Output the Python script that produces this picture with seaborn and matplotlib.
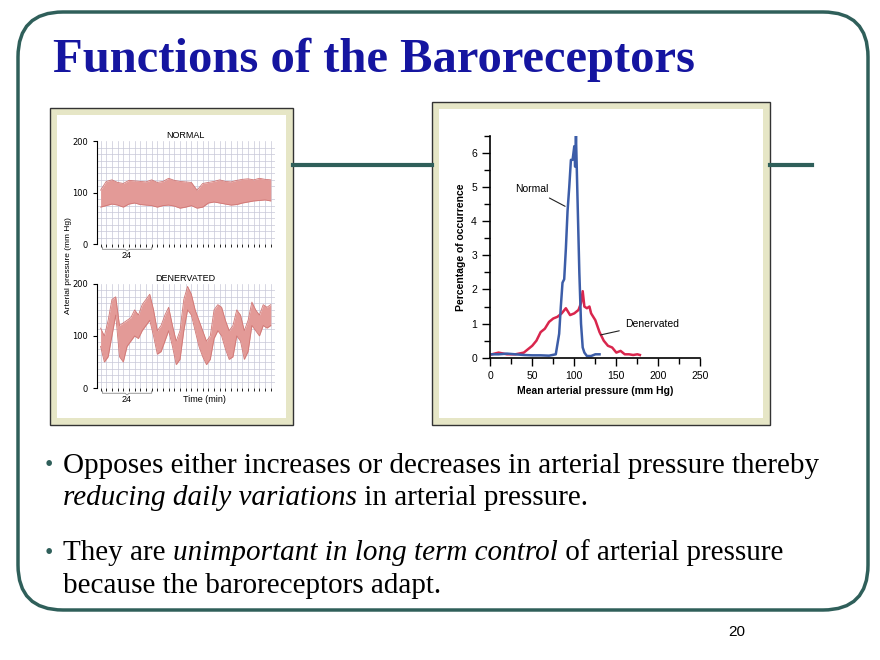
import numpy as np
import pandas as pd
import matplotlib
matplotlib.use("Agg")
import matplotlib.pyplot as plt
from matplotlib.patches import FancyBboxPatch, Rectangle
import seaborn as sns

# ---- data ----
trace_t = [0, 3, 6, 9, 12, 15, 18, 21, 24, 27, 30, 33, 36, 39, 42, 45, 48, 51, 54, 57,
           60, 63, 66, 69, 72, 75, 78, 81, 84, 87, 90]
normal_upper = [105, 122, 125, 120, 118, 124, 123, 122, 121, 125, 120, 122, 128, 124, 122, 121,
                120, 105, 118, 120, 122, 125, 122, 121, 124, 126, 127, 125, 128, 126, 125]
normal_lower = [72, 75, 78, 76, 72, 78, 80, 77, 76, 75, 72, 75, 76, 74, 70, 72,
                75, 70, 72, 80, 82, 80, 78, 76, 77, 80, 82, 84, 85, 86, 84]

den_t = list(range(0, 92, 2))
den_upper = [115, 100, 130, 170, 175, 120, 125, 130, 135, 150, 140, 160, 170, 180, 150, 110,
             120, 140, 155, 120, 90, 110, 170, 195, 180, 150, 130, 110, 90, 100, 150, 160,
             155, 130, 110, 120, 150, 140, 110, 130, 165, 150, 140, 160, 155, 160]
den_lower = [80, 50, 60, 100, 140, 60, 50, 80, 90, 100, 95, 110, 120, 130, 100, 65,
             70, 90, 110, 80, 45, 55, 110, 150, 140, 110, 80, 60, 45, 55, 95, 110,
             100, 75, 55, 60, 100, 90, 55, 70, 120, 110, 100, 120, 115, 120]

normal_x = [2, 10, 20, 30, 40, 50, 60, 70, 78, 80, 82, 84, 86, 88, 90, 92, 94, 96, 98, 100,
            101, 102, 103, 104, 106, 108, 110, 112, 115, 120, 125, 130]
normal_y = [0.1, 0.1, 0.12, 0.1, 0.08, 0.07, 0.07, 0.06, 0.1, 0.4, 0.7, 1.5, 2.2, 2.3, 3.2, 4.3,
            5.0, 5.8, 5.8, 6.2, 5.6, 6.5, 5.5, 4.5, 2.5, 1.0, 0.3, 0.15, 0.05, 0.05, 0.1, 0.1]
den_x = [2, 10, 20, 30, 40, 45, 50, 55, 60, 65, 70, 75, 80, 85, 90, 95, 100, 105, 108, 110,
         112, 115, 118, 120, 125, 130, 135, 140, 145, 150, 155, 160, 165, 170, 175, 178]
den_y = [0.1, 0.15, 0.1, 0.1, 0.15, 0.25, 0.35, 0.5, 0.75, 0.85, 1.05, 1.15, 1.2, 1.3, 1.45, 1.25,
         1.3, 1.4, 1.6, 1.95, 1.5, 1.45, 1.5, 1.3, 1.1, 0.75, 0.5, 0.35, 0.3, 0.15, 0.2, 0.1,
         0.1, 0.08, 0.1, 0.08]

title = "Functions of the Baroreceptors"
bullets = [
    [[("Opposes either increases or decreases in arterial pressure thereby", "normal")],
     [("reducing daily variations", "italic"), (" in arterial pressure.", "normal")]],
    [[("They are ", "normal"), ("unimportant in long term control", "italic"), (" of arterial pressure", "normal")],
     [("because the baroreceptors adapt.", "normal")]],
]

teal = "#2f5f5a"
serif = "Liberation Serif"
sans = "Liberation Sans"

fig = plt.figure(figsize=(8.8, 6.6), dpi=100)
bg = fig.add_axes([0, 0, 1, 1])
bg.set_xlim(0, 880)
bg.set_ylim(660, 0)
bg.axis("off")

bg.add_patch(FancyBboxPatch((18, 12), 850, 598, boxstyle="round,pad=0,rounding_size=45",
                            fc="white", ec=teal, lw=2.5))
bg.plot([293, 432], [165, 165], color=teal, lw=3)
bg.plot([770, 812], [165, 165], color=teal, lw=3)
for (x0, y0, x1, y1) in [(50, 108, 293, 425), (432, 102, 770, 425)]:
    bg.add_patch(Rectangle((x0, y0), x1 - x0, y1 - y0, fc="#e6e6c6", ec="#333333", lw=1))
    bg.add_patch(Rectangle((x0 + 7, y0 + 7), x1 - x0 - 14, y1 - y0 - 14, fc="white", ec="none"))

bg.text(53, 60, title, fontsize=35, fontweight="bold", family=serif, color="#1515a0", va="center")
bg.text(728, 632, "20", fontsize=11, family=sans, va="center")

fig.canvas.draw()
r = fig.canvas.get_renderer()
ys = [[466, 498], [553, 586]]
for b, lines in enumerate(bullets):
    bg.text(45, ys[b][0], "•", fontsize=17, family=serif, color=teal, va="center")
    for li, parts in enumerate(lines):
        x = 63
        for txt, style in parts:
            t = bg.text(x, ys[b][li], txt, fontsize=21, family=serif, style=style, va="center")
            ext = t.get_window_extent(r)
            x += ext.width


def trace(rect, t, up, lo, label):
    ax = fig.add_axes(rect)
    ax.fill_between(t, lo, up, color="#e39a97", lw=0)
    df = pd.DataFrame({"t": t + t, "p": up + lo, "s": ["u"] * len(t) + ["l"] * len(t)})
    sns.lineplot(data=df, x="t", y="p", hue="s", palette=["#d07775", "#d07775"], lw=0.6,
                 legend=False, ax=ax)
    ax.set_xlim(-2, 92)
    ax.set_ylim(0, 200)
    ax.set_xticks(np.arange(0, 92, 3), minor=True)
    ax.set_yticks(np.arange(0, 201, 12.5), minor=True)
    ax.grid(which="minor", color="#c8c8d8", lw=0.5)
    ax.set_axisbelow(True)
    ax.set_xticks([])
    ax.set_yticks([0, 100, 200])
    ax.tick_params(axis="y", which="major", labelsize=6, length=3)
    ax.tick_params(axis="y", which="minor", length=0)
    for s in ["top", "right", "bottom"]:
        ax.spines[s].set_visible(False)
    ax.set_xlabel("")
    ax.set_ylabel("")
    ax.set_title(label, fontsize=6.5, family=sans, pad=2)
    # 24 min bracket
    ax.plot([1, 1, 13, 14, 15, 27, 27], [-6, -10, -10, -13, -10, -10, -6], color="#999999",
            lw=0.7, clip_on=False)
    ax.text(14, -22, "24", fontsize=6.5, ha="center", va="center", family=sans)
    return ax

ax1 = trace([0.110, 0.630, 0.202, 0.156], trace_t, normal_upper, normal_lower, "NORMAL")
ax2 = trace([0.110, 0.412, 0.202, 0.158], den_t, den_upper, den_lower, "DENERVATED")
ax2.text(55, -22, "Time (min)", fontsize=6.5, ha="center", va="center", family=sans)
fig.text(68 / 880, 1 - 266 / 660, "Arterial pressure (mm Hg)", rotation=90, fontsize=6,
         family=sans, ha="center", va="center")

ax3 = fig.add_axes([0.557, 0.458, 0.239, 0.336])
sns.lineplot(x=den_x, y=den_y, color="#d9264d", lw=1.8, ax=ax3)
sns.lineplot(x=normal_x, y=normal_y, color="#3c5da8", lw=1.8, ax=ax3)
ax3.set_xlim(0, 250)
ax3.set_ylim(0, 6.5)
ax3.set_xticks([0, 50, 100, 150, 200, 250])
ax3.set_xticks(np.arange(0, 251, 25), minor=True)
ax3.set_yticks(range(0, 7))
ax3.set_yticks(np.arange(0, 6.6, 0.5), minor=True)
ax3.tick_params(which="both", direction="out", labelsize=7.5, width=1)
ax3.tick_params(which="major", length=6)
ax3.tick_params(which="minor", length=4)
for s in ["top", "right"]:
    ax3.spines[s].set_visible(False)
for s in ["left", "bottom"]:
    ax3.spines[s].set_linewidth(1.2)
ax3.set_xlabel("Mean arterial pressure (mm Hg)", fontsize=7.5, fontweight="bold", family=sans)
ax3.set_ylabel("Percentage of occurrence", fontsize=7.5, fontweight="bold", family=sans)
for lab in ax3.get_xticklabels() + ax3.get_yticklabels():
    lab.set_family(sans)
ax3.annotate("Normal", xy=(92, 4.4), xytext=(50, 4.8), fontsize=7.5, family=sans,
             ha="center", va="bottom", arrowprops=dict(arrowstyle="-", lw=0.8, color="#222222"))
ax3.annotate("Denervated", xy=(128, 0.65), xytext=(160, 1.0), fontsize=7.5, family=sans,
             ha="left", va="center", arrowprops=dict(arrowstyle="-", lw=0.8, color="#222222"))

fig.savefig("out.png", dpi=100)
